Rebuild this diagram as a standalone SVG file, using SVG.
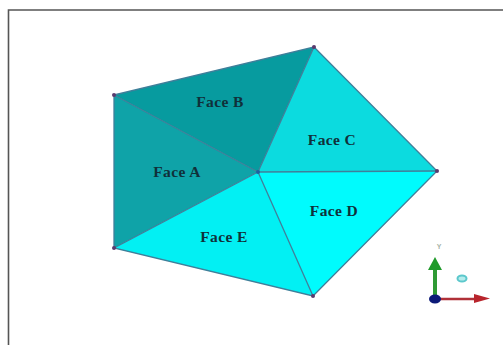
<svg xmlns="http://www.w3.org/2000/svg" width="503" height="345" viewBox="0 0 503 345">
<style>
.face{stroke:none}
.edge{stroke:#3f7f9a;stroke-width:1.3;fill:none}
.dot{fill:#5a3a6e}
.lbl{font-family:"Liberation Serif",serif;font-weight:bold;font-size:15.5px;fill:#10303a;text-anchor:middle;letter-spacing:.4px}
</style>
<rect width="503" height="345" fill="#fff"/>
<path d="M8.500 345V10H503" fill="none" stroke="#555" stroke-width="1.600"/>
<g id="face-a"><polygon class="face" points="114,95 258,172 114,248" fill="#0fa3a8"/><text class="lbl" x="177" y="177">Face A</text></g>
<g id="face-b"><polygon class="face" points="114,95 314,47 258,172" fill="#079b9f"/><text class="lbl" x="220" y="107">Face B</text></g>
<g id="face-c"><polygon class="face" points="314,47 437,171 258,172" fill="#0cdbdf"/><text class="lbl" x="332" y="145">Face C</text></g>
<g id="face-d"><polygon class="face" points="258,172 437,171 313,296" fill="#00fbfd"/><text class="lbl" x="334" y="216">Face D</text></g>
<g id="face-e"><polygon class="face" points="114,248 258,172 313,296" fill="#02f0f3"/><text class="lbl" x="224" y="242">Face E</text></g>
<g id="connectors">
<path class="edge" d="M114 95L314 47L437 171L313 296L114 248Z"/>
<path class="edge" d="M114 95L258 172M314 47L258 172M437 171L258 172M313 296L258 172M114 248L258 172"/>
<circle class="dot" cx="114" cy="95" r="2"/><circle class="dot" cx="314" cy="47" r="2"/><circle class="dot" cx="437" cy="171" r="2"/><circle class="dot" cx="313" cy="296" r="2"/><circle class="dot" cx="114" cy="248" r="2"/><circle cx="258" cy="172" r="2" fill="#1f5f9f"/>
</g>
<g id="axes">
<path d="M435 299V268" stroke="#2f9a35" stroke-width="4" fill="none"/>
<polygon points="435,257 442,270 428,270" fill="#1f9a2a"/>
<path d="M436 299H478" stroke="#b03038" stroke-width="2.500" fill="none"/>
<polygon points="490,298.500 474,294 474,303" fill="#b8242c"/>
<ellipse cx="435" cy="299" rx="6" ry="4.500" fill="#0c1a78"/>
<text x="439" y="249" font-family="Liberation Sans,sans-serif" font-size="7" font-weight="bold" fill="#a8b4a8" text-anchor="middle">Y</text>
<ellipse cx="462" cy="278.500" rx="4.500" ry="3" fill="#b5ecec" stroke="#5cc8cc" stroke-width="2"/>
</g>
</svg>
